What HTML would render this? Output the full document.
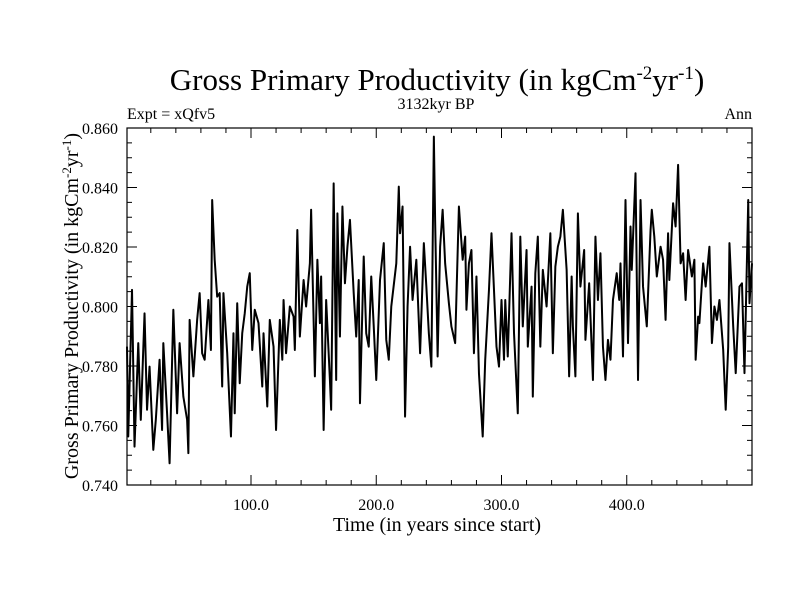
<!DOCTYPE html>
<html><head><meta charset="utf-8"><style>
html,body{margin:0;padding:0;background:#fff;}
svg{display:block;font-family:"Liberation Serif",serif;}
</style></head><body>
<svg id="chart" width="800" height="600">
<text x="437" y="90" font-size="31" text-anchor="middle">Gross Primary Productivity (in kgCm<tspan dy="-11" font-size="19">-2</tspan><tspan dy="11">yr</tspan><tspan dy="-11" font-size="19">-1</tspan><tspan dy="11">)</tspan></text>
<text x="436" y="109" font-size="16" text-anchor="middle">3132kyr BP</text>
<text x="127" y="119" font-size="16">Expt = xQfv5</text>
<text x="752" y="119" font-size="16" text-anchor="end">Ann</text>
<text x="437" y="531" font-size="20" text-anchor="middle">Time (in years since start)</text>
<text transform="translate(78,306) rotate(-90)" font-size="20" text-anchor="middle">Gross Primary Productivity (in kgCm<tspan dy="-7" font-size="13">-2</tspan><tspan dy="7">yr</tspan><tspan dy="-7" font-size="13">-1</tspan><tspan dy="7">)</tspan></text>
<g id="axes"></g>
<path id="series" fill="none" stroke="#000" stroke-width="2" stroke-linejoin="round"></path>
<rect x="127" y="128" width="625" height="357" fill="none" stroke="#000" stroke-width="1.2"></rect>
</svg>
<script>
const years = [1,2,5,7,10,12,15,17,19,22,24,27,29,30,33,35,38,41,43,46,49,50,51,54,57,59,61,63,66,68,69,71,73,75,77,78,81,84,86,87,89,91,93,95,97,99,101,103,106,109,110,113,115,118,120,123,125,126,128,131,
134,135,137,139,142,144,147,148,151,153,155,156,158,160,163,164,166,168,169,171,173,175,177,179,182,184,186,187,190,192,194,196,198,200,203,206,208,210,212,216,218,219,221,223,225,227,229,232,235,238,240,242,244,246,247,249,251,253,255,258,
260,263,266,269,271,272,274,276,278,280,282,285,287,290,292,296,298,300,302,303,305,308,310,313,315,317,320,321,324,325,327,329,331,333,336,339,341,343,345,347,349,352,354,356,357,359,361,363,366,367,370,373,375,377,379,381,383,385,
387,389,392,394,395,397,399,401,403,404,407,409,411,413,416,419,420,422,424,427,429,431,433,434,437,439,441,443,445,447,449,452,454,455,457,458,461,463,466,468,470,472,474,477,479,481,482,485,487,490,492,494,497,498,500];
const gpp = [0.7865,0.7563,0.8056,0.7529,0.7877,0.7619,0.7977,0.7653,0.7798,0.7518,0.7619,0.7821,0.7585,0.7877,0.7641,0.7473,0.7989,0.7641,0.7877,0.7697,0.7619,0.7507,0.7955,0.7765,0.7955,0.8045,0.7843,0.7821,0.8022,0.7854,0.8358,0.8157,0.8033,0.8045,0.7731,0.8045,0.7843,0.7563,0.7910,0.7641,0.8011,0.7742,0.7910,0.7977,0.8067,0.8112,0.7854,0.7989,0.7944,0.7731,0.7910,0.7664,0.7955,0.7865,0.7585,0.7955,0.7821,0.8022,0.7843,0.8000,
0.7966,0.7854,0.8257,0.7899,0.8089,0.8000,0.8145,0.8325,0.7765,0.8157,0.7944,0.8101,0.7585,0.8022,0.7753,0.7653,0.8414,0.7753,0.8313,0.7899,0.8336,0.8078,0.8201,0.8291,0.8045,0.7899,0.8089,0.7675,0.8168,0.7910,0.7865,0.8101,0.7933,0.7753,0.8089,0.8213,0.7888,0.7821,0.8000,0.8145,0.8403,0.8246,0.8336,0.7630,0.8000,0.8201,0.8022,0.8157,0.7843,0.8213,0.8067,0.7910,0.7798,0.8571,0.8291,0.7832,0.8201,0.8325,0.8145,0.8011,
0.7933,0.7877,0.8336,0.8157,0.8235,0.7989,0.8145,0.8190,0.7843,0.8101,0.7776,0.7563,0.7821,0.8056,0.8246,0.7865,0.7798,0.8022,0.7821,0.8022,0.7832,0.8246,0.7910,0.7641,0.8235,0.7933,0.8190,0.7865,0.8067,0.7697,0.8112,0.8235,0.7865,0.8123,0.8000,0.8246,0.7843,0.8134,0.8201,0.8235,0.8325,0.8123,0.7765,0.8101,0.7933,0.7765,0.8313,0.8067,0.8190,0.7888,0.8078,0.7753,0.8235,0.8022,0.8179,0.7865,0.7753,0.7888,
0.7821,0.8022,0.8112,0.8022,0.8145,0.7832,0.8358,0.7877,0.8269,0.8123,0.8448,0.7753,0.8358,0.8067,0.7933,0.8257,0.8325,0.8235,0.8101,0.8201,0.8157,0.7955,0.8246,0.8089,0.8347,0.8269,0.8476,0.8145,0.8179,0.8022,0.8190,0.8101,0.8157,0.7821,0.7966,0.7944,0.8145,0.8067,0.8201,0.7877,0.8000,0.7955,0.8022,0.7854,0.7653,0.7865,0.8213,0.7933,0.7776,0.8067,0.8078,0.7776,0.8358,0.8011,0.8145];
const yTicks = [0.740,0.760,0.780,0.800,0.820,0.840,0.860];
const xTicks = [100,200,300,400];
const xLabels = ["100.0","200.0","300.0","400.0"];

const X0=127,X1=752,Y0=485,Y1=128, xMin=1,xMax=500,yMin=0.74,yMax=0.86;
const xs=v=>X0+(v-xMin)/(xMax-xMin)*(X1-X0);
const ys=v=>Y0-(v-yMin)/(yMax-yMin)*(Y0-Y1);
const NS="http://www.w3.org/2000/svg";
const axes=document.getElementById('axes');
function line(x1,y1,x2,y2){const l=document.createElementNS(NS,'line');l.setAttribute('x1',x1);l.setAttribute('y1',y1);l.setAttribute('x2',x2);l.setAttribute('y2',y2);l.setAttribute('stroke','#000');l.setAttribute('stroke-width','1');


axes.appendChild(l);}
function text(x,y,s,anchor){const t=document.createElementNS(NS,'text');t.setAttribute('x',x);t.setAttribute('y',y);t.setAttribute('font-size','16');t.setAttribute('text-anchor',anchor);t.textContent=s;


axes.appendChild(t);}
for(let v=yMin;v<=yMax+1e-9;v+=0.005){const y=ys(v);const maj=Math.abs(Math.round(v*1000)%20)<1;const L=maj?10:5;line(X0,y,X0+L,y);line(X1,y,X1-L,y);}
yTicks.forEach(v=>text(118,ys(v)+6,v.toFixed(3),'end'));
for(let v=20;v<=500;v+=20){const x=xs(v);const maj=v%100===0;const L=maj?10:5;line(x,Y0,x,Y0-L);line(x,Y1,x,Y1+L);}
xTicks.forEach((v,i)=>text(xs(v),510,xLabels[i],'middle'));
let d='';years.forEach((yr,i)=>{d+=(i?'L':'M')+xs(yr).toFixed(2)+','+ys(gpp[i]).toFixed(2);});
document.getElementById('series').setAttribute('d',d);
</script>
</body></html>
